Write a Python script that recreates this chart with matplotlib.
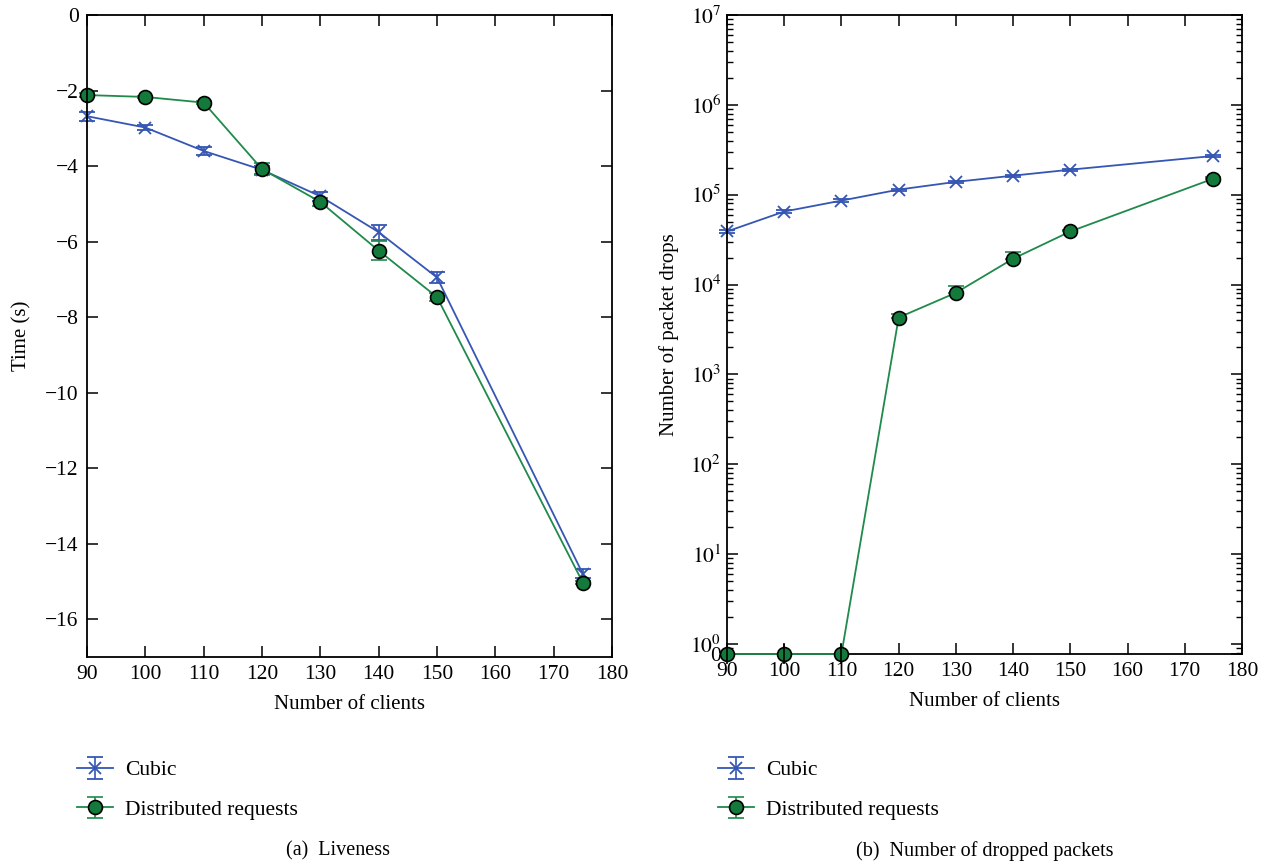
import numpy as np
import matplotlib
matplotlib.use("Agg")
import matplotlib.pyplot as plt
from matplotlib.ticker import FixedLocator, FixedFormatter, LogLocator, NullFormatter

plt.rcParams['font.family'] = ['Liberation Serif', 'DejaVu Serif']
plt.rcParams['mathtext.fontset'] = 'stix'

clients = [90, 100, 110, 120, 130, 140, 150, 175]

# (a) Liveness
live_cubic = [-2.68, -2.98, -3.6, -4.1, -4.8, -5.75, -6.95, -14.8]
live_cubic_err = [0.12, 0.06, 0.1, 0.1, 0.12, 0.2, 0.15, 0.12]
live_dist = [-2.12, -2.17, -2.32, -4.08, -4.95, -6.24, -7.47, -15.03]
live_dist_err = [0.05, 0.03, 0.03, 0.15, 0.1, 0.25, 0.1, 0.05]

# (b) Number of dropped packets
drop_cubic = [39000, 65000, 86000, 114000, 139000, 163000, 190000, 270000]
drop_cubic_err = [1500, 2000, 2500, 3000, 3500, 4000, 4500, 6000]
drop_dist = [0, 0, 0, 4300, 8100, 19400, 39000, 151000]
drop_dist_err = [0, 0, 0, 400, 1600, 3500, 2000, 6000]

series_labels = ["Cubic", "Distributed requests"]
xlabel = "Number of clients"
captions = ["(a)  Liveness", "(b)  Number of dropped packets"]

BLUE = '#3556b3'
GREEN = '#1f8a4a'
GFACE = '#137a3b'
FS = 15.5
LFS = 15

fig = plt.figure(figsize=(12.71, 8.63), dpi=100)
W, H = 1271, 863
axL = fig.add_axes([87 / W, 1 - 657 / H, (612 - 87) / W, (657 - 15) / H])
axR = fig.add_axes([727 / W, 1 - 654 / H, (1242 - 727) / W, (654 - 15) / H])


def style(ax):
    ax.tick_params(which='both', direction='in', top=True, right=True, labelsize=FS, pad=6)
    ax.tick_params(which='major', length=8, width=1.1)
    ax.tick_params(which='minor', length=4, width=1.0)
    for s in ax.spines.values():
        s.set_linewidth(1.3)


# Left
hc = axL.errorbar(clients, live_cubic, yerr=live_cubic_err, color=BLUE, marker='x', ms=9, mew=1.3,
                  lw=1.3, capsize=6, capthick=1.2, elinewidth=1.2, label=series_labels[0], clip_on=False)
hd = axL.errorbar(clients, live_dist, yerr=live_dist_err, color=GREEN, marker='o', ms=10, mfc=GFACE,
                  mec='black', mew=1.2, lw=1.3, capsize=6, capthick=1.2, elinewidth=1.2,
                  label=series_labels[1], clip_on=False)
axL.set_xlim(90, 180)
axL.set_ylim(-17, 0)
axL.set_xticks(np.arange(90, 181, 10))
axL.set_yticks(np.arange(-16, 1, 2))
axL.set_yticklabels(['\u2212%d' % -v if v < 0 else '%d' % v for v in np.arange(-16, 1, 2)])
axL.set_xlabel(xlabel, fontsize=LFS, labelpad=8)
axL.set_ylabel("Time (s)", fontsize=LFS, labelpad=10)
style(axL)

# Right
ybot = 0.774
dd = [v if v > 0 else ybot for v in drop_dist]
axR.errorbar(clients, drop_cubic, yerr=drop_cubic_err, color=BLUE, marker='x', ms=9, mew=1.3,
             lw=1.3, capsize=6, capthick=1.2, elinewidth=1.2, clip_on=False)
axR.errorbar(clients, dd, yerr=[[0] * len(dd), drop_dist_err], color=GREEN, marker='o', ms=10, mfc=GFACE,
             mec='black', mew=1.2, lw=1.3, capsize=6, capthick=1.2, elinewidth=1.2, clip_on=False, zorder=5)
axR.plot(clients[:3], [ybot] * 3, ls='none', marker='|', ms=14, mew=1.2, color='black', clip_on=False, zorder=6)
axR.set_yscale('log')
axR.set_xlim(90, 180)
axR.set_ylim(ybot, 1e7)
axR.set_xticks(np.arange(90, 181, 10))
majors = [ybot] + [10.0 ** k for k in range(0, 8)]
axR.yaxis.set_major_locator(FixedLocator(majors))
axR.yaxis.set_major_formatter(FixedFormatter(['0'] + [r'$10^{%d}$' % k for k in range(0, 8)]))
axR.yaxis.set_minor_locator(LogLocator(base=10, subs=np.arange(2, 10), numticks=20))
axR.yaxis.set_minor_formatter(NullFormatter())
axR.set_xlabel(xlabel, fontsize=LFS, labelpad=8)
axR.set_ylabel("Number of packet drops", fontsize=LFS, labelpad=8)
style(axR)
axR.tick_params(axis='y', which='major', pad=4)

# Legends
for x0 in [58 / W, 699 / W]:
    fig.legend([hc, hd], series_labels, loc='upper left', bbox_to_anchor=(x0, 1 - 741 / H),
               frameon=False, fontsize=FS, handlelength=1.65, labelspacing=0.9, handletextpad=0.55)

fig.text(338 / W, 1 - 851 / H, captions[0], ha='center', va='center', fontsize=14.5)
fig.text(985 / W, 1 - 851 / H, captions[1], ha='center', va='center', fontsize=14.5)

fig.savefig('out.png', dpi=100)
